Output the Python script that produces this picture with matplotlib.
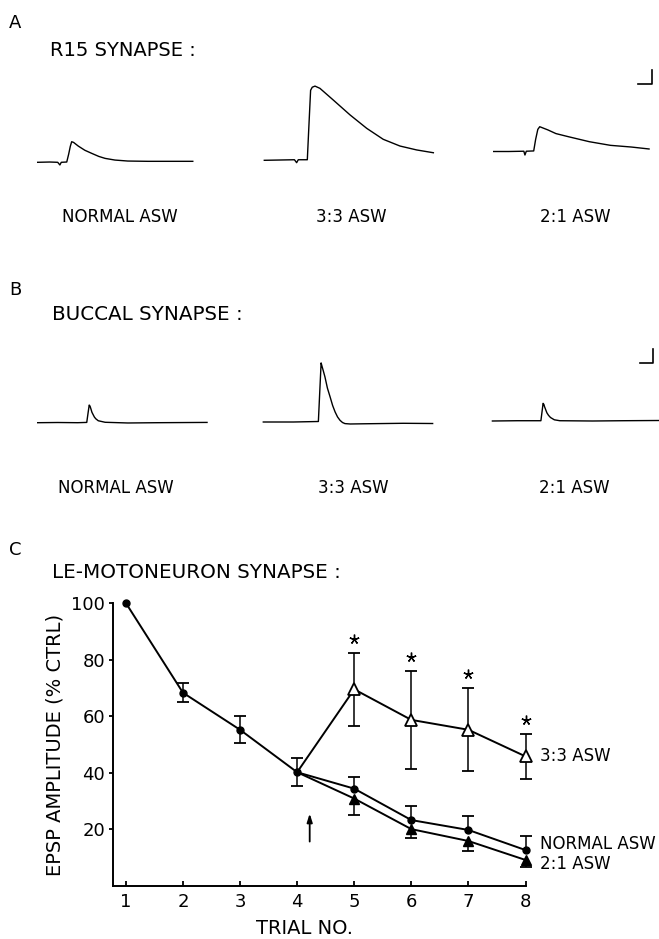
import numpy as np
import matplotlib.pyplot as plt
from matplotlib import transforms

plt.rcParams['font.family'] = ['DejaVu Sans']

W, H = 659, 939
MS_PER_PX = 50 / 13.7   # horizontal scale bar = 50 ms
MV_PER_PX = 5 / 14.0    # vertical scale bar = 5 mV
SCALE_MS, SCALE_MV = 50, 5

# --- Panel A: R15 synapse, EPSP traces (time in ms, mV above baseline) ---
R15_NORMAL_T = [0, 44, 73, 81, 86, 106, 113, 119, 124, 131, 148, 172, 197, 223, 246, 282, 329, 402, 566]
R15_NORMAL_V = [0, 0.1, 0, -0.95, 0, 0.1, 2.9, 5.7, 7.35, 7.1, 5.8, 4.3, 3.2, 2.1, 1.4, 0.8, 0.45, 0.35, 0.35]
R15_33_T = [0, 55, 110, 118, 124, 157, 162, 169, 175, 185, 203, 252, 313, 374, 434, 495, 556, 617]
R15_33_V = [0, 0.1, 0.2, -0.85, 0.2, 0.2, 10.7, 25.0, 26.1, 26.5, 25.7, 21.5, 16.2, 11.4, 7.5, 5.1, 3.7, 2.7]
R15_21_T = [0, 55, 110, 114, 119, 146, 153, 161, 168, 198, 227, 272, 349, 426, 502, 567]
R15_21_V = [0, 0, 0.1, -1.25, 0.1, 0.2, 4.3, 7.9, 8.85, 7.7, 6.4, 5.3, 3.5, 2.2, 1.6, 0.9]

# --- Panel B: buccal synapse ---
BUC_NORMAL_T = [0, 73, 146, 179, 184, 188, 191, 194, 198, 203, 207, 212, 221, 246, 329, 438, 618]
BUC_NORMAL_V = [0, 0.07, 0, 0.1, 3.6, 6.3, 5.9, 5.0, 3.7, 2.75, 2.0, 1.4, 0.7, 0.15, -0.1, 0, 0.1]
BUC_33_T = [0, 110, 201, 206, 211, 214, 220, 225, 234, 244, 253, 262, 271, 280, 289, 298, 317, 365, 511, 618]
BUC_33_V = [0, 0, 0.18, 10.7, 21.1, 20.0, 17.9, 16.1, 12.1, 8.9, 5.9, 3.6, 1.8, 0.6, -0.18, -0.57, -0.71,
            -0.64, -0.46, -0.54]
BUC_21_T = [0, 91, 177, 181, 185, 188, 190, 195, 199, 205, 212, 226, 246, 365, 475, 607]
BUC_21_V = [0, 0.1, 0.1, 3.2, 6.3, 5.9, 5.2, 3.9, 2.9, 2.0, 1.25, 0.43, 0.1, 0, 0.1, 0.18]

TRACE_LABELS = ['NORMAL ASW', '3:3 ASW', '2:1 ASW']

# --- Panel C: LE-motoneuron synapse, EPSP amplitude (% of control) ---
TRIALS = [1, 2, 3, 4, 5, 6, 7, 8]
NORMAL_MEAN = [100, 68.3, 55.2, 40.2, 34.4, 23.3, 19.8, 12.7]
NORMAL_ERR_HI = [0, 3.3, 4.8, 5.0, 4.1, 5.0, 5.0, 5.0]
NORMAL_ERR_LO = [0, 3.3, 4.8, 5.0, 0, 0, 0, 0]
TRIALS_POST = [4, 5, 6, 7, 8]
ASW33_MEAN = [40.2, 69.5, 58.7, 55.2, 45.8]
ASW33_ERR = [0, 12.8, 17.2, 14.6, 8.0]
ASW21_MEAN = [40.2, 30.9, 20.1, 15.9, 9.2]
ASW21_ERR = [0, 5.9, 3.3, 3.4, 2.6]
SIG_TRIALS = [5, 6, 7, 8]
SWITCH_TRIAL = 4.22

# layout (pixels of the original figure)
A_ONSET = [37.7, 264.3, 493.7]
A_BASE = [162.3, 160.3, 151.5]
B_ONSET = [37.7, 263.3, 492.4]
B_BASE = [422.7, 422.0, 421.0]

fig = plt.figure(figsize=(W / 100, H / 100), dpi=100)


def fx(px):
    return px / W


def fy(py):
    return 1 - py / H


def trace_panel(top, bottom, traces, onsets, bases, bar_corner):
    ax = fig.add_axes([0, fy(bottom), 1, (bottom - top) / H])
    ax.set_xlim(0, W * MS_PER_PX)
    ax.set_ylim(0, (bottom - top) * MV_PER_PX)
    ax.axis('off')
    for (t, v), x0, y0 in zip(traces, onsets, bases):
        ax.plot(np.array(t) + x0 * MS_PER_PX, np.array(v) + (bottom - y0) * MV_PER_PX,
                color='k', lw=1.0)
    cx = bar_corner[0] * MS_PER_PX
    cy = (bottom - bar_corner[1]) * MV_PER_PX
    ax.plot([cx - SCALE_MS, cx, cx], [cy, cy, cy + SCALE_MV], color='k', lw=1.2)
    return ax


# ---------- A ----------
fig.text(fx(9), fy(23), 'A', fontsize=13, va='center', ha='left')
fig.text(fx(50), fy(50), 'R15 SYNAPSE :', fontsize=14, va='center', ha='left')
trace_panel(55, 185, [(R15_NORMAL_T, R15_NORMAL_V), (R15_33_T, R15_33_V), (R15_21_T, R15_21_V)],
            A_ONSET, A_BASE, (651.5, 84))
for lab, cx in zip(TRACE_LABELS, [120, 351, 575]):
    fig.text(fx(cx), fy(217), lab, fontsize=12, ha='center', va='center')

# ---------- B ----------
fig.text(fx(9), fy(290), 'B', fontsize=13, va='center', ha='left')
fig.text(fx(52), fy(315), 'BUCCAL SYNAPSE :', fontsize=14.3, va='center', ha='left')
trace_panel(330, 450, [(BUC_NORMAL_T, BUC_NORMAL_V), (BUC_33_T, BUC_33_V), (BUC_21_T, BUC_21_V)],
            B_ONSET, B_BASE, (653.2, 362.7))
for lab, cx in zip(TRACE_LABELS, [116, 353, 574]):
    fig.text(fx(cx), fy(488), lab, fontsize=12, ha='center', va='center')

# ---------- C ----------
fig.text(fx(9), fy(550), 'C', fontsize=13, va='center', ha='left')
fig.text(fx(52), fy(572), 'LE-MOTONEURON SYNAPSE :', fontsize=14.3, va='center', ha='left')

ax = fig.add_axes([fx(113.3), fy(886), (525.5 - 113.3) / W, (886 - 603) / H])
ax.set_xlim(0.78, 8)
ax.set_ylim(0, 100)


def draw_errors(x, mean, lo, hi):
    x, mean, lo, hi = (np.asarray(a, dtype=float) for a in (x, mean, lo, hi))
    keep = (lo > 0) | (hi > 0)
    ax.vlines(x[keep], (mean - lo)[keep], (mean + hi)[keep], color='k', lw=1.1, zorder=2,
              clip_on=False)
    ax.plot(x[hi > 0], (mean + hi)[hi > 0], ls='none', marker='_', ms=8.5, mew=1.3, color='k',
            zorder=2, clip_on=False)
    ax.plot(x[lo > 0], (mean - lo)[lo > 0], ls='none', marker='_', ms=8.5, mew=1.3, color='k',
            zorder=2, clip_on=False)


draw_errors(TRIALS, NORMAL_MEAN, NORMAL_ERR_LO, NORMAL_ERR_HI)
draw_errors(TRIALS_POST, ASW33_MEAN, ASW33_ERR, ASW33_ERR)
draw_errors(TRIALS_POST, ASW21_MEAN, ASW21_ERR, np.zeros(len(ASW21_ERR)))

ax.plot(TRIALS_POST, ASW21_MEAN, '-^', color='k', lw=1.4, ms=6.5, markevery=slice(1, None),
        zorder=3, clip_on=False)
ax.plot(TRIALS_POST, ASW33_MEAN, '-^', color='k', lw=1.4, ms=8, mfc='white', mec='k', mew=1.3,
        markevery=slice(1, None), zorder=4, clip_on=False)
ax.plot(TRIALS, NORMAL_MEAN, '-o', color='k', lw=1.4, ms=5, zorder=5, clip_on=False)

# significance stars above the 3:3 error bars
tops = [m + e for t, m, e in zip(TRIALS_POST, ASW33_MEAN, ASW33_ERR) if t in SIG_TRIALS]
star_tr = transforms.offset_copy(ax.transData, fig=fig, x=0, y=14, units='dots')
ax.plot(SIG_TRIALS, tops, ls='none', marker=(5, 2, 0), ms=7, mew=1.0, color='k',
        transform=star_tr, clip_on=False)

# arrow marking the solution change
ax.annotate('', xy=(SWITCH_TRIAL, 25.6), xytext=(SWITCH_TRIAL, 15.7),
            arrowprops=dict(arrowstyle='-|>,head_length=0.5,head_width=0.16', lw=1.3,
                            color='k', shrinkA=0, shrinkB=0))

for lab, y_last, dy in [('3:3 ASW', ASW33_MEAN[-1], 0),
                        ('NORMAL ASW', NORMAL_MEAN[-1], 6),
                        ('2:1 ASW', ASW21_MEAN[-1], -4)]:
    ax.annotate(lab, xy=(8, y_last), xytext=(15, dy), textcoords='offset pixels',
                fontsize=12, ha='left', va='center', annotation_clip=False)

ax.spines['top'].set_visible(False)
ax.spines['right'].set_visible(False)
ax.spines['left'].set_linewidth(1.4)
ax.spines['bottom'].set_linewidth(1.4)
ax.set_xticks(TRIALS)
ax.set_yticks([20, 40, 60, 80, 100])
ax.tick_params(axis='x', direction='in', length=3.6, width=1.3, labelsize=13, pad=5)
ax.tick_params(axis='y', direction='out', length=2.9, width=1.3, labelsize=13, pad=3)

ax.set_ylabel('EPSP AMPLITUDE (% CTRL)', fontsize=14, va='center')
ax.yaxis.set_label_coords((54.7 - 113.3) / 412.2, 0.5)
ax.set_xlabel('TRIAL NO.', fontsize=14, va='center')
ax.xaxis.set_label_coords((305 - 113.3) / 412.2, (886 - 928) / 283)

fig.savefig('out.png', dpi=100)
